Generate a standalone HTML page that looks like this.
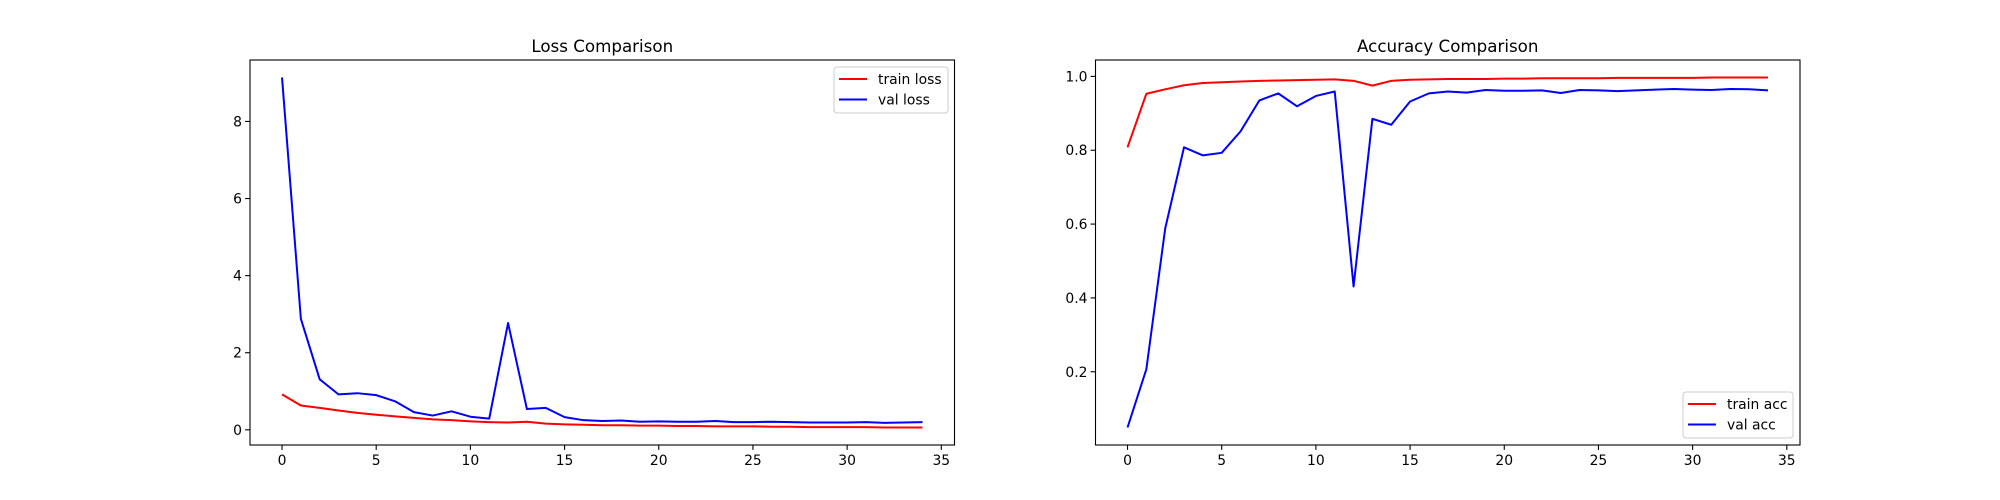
<!DOCTYPE html>
<html><head><meta charset="utf-8"><style>
html,body{margin:0;padding:0;background:#fff;}
svg{display:block;font-family:"DejaVu Sans","Liberation Sans",sans-serif;}
</style></head><body>
<svg id="fig" width="2000" height="500" viewBox="0 0 2000 500"></svg>
<script>
const epochs = Array.from({length:35},(_,i)=>i);
const trainLoss = [0.92,0.63,0.57,0.50,0.44,0.39,0.35,0.31,0.27,0.25,0.22,0.20,0.19,0.21,0.16,0.14,0.13,0.12,0.12,0.11,0.11,0.10,0.10,0.09,0.09,0.09,0.08,0.08,0.07,0.07,0.07,0.07,0.06,0.06,0.06];
const valLoss = [9.14,2.88,1.31,0.92,0.95,0.90,0.74,0.46,0.37,0.48,0.34,0.29,2.77,0.54,0.57,0.33,0.25,0.23,0.24,0.21,0.22,0.21,0.21,0.23,0.20,0.20,0.21,0.20,0.19,0.19,0.19,0.20,0.18,0.19,0.20];
const trainAcc = [0.808,0.953,0.965,0.976,0.982,0.984,0.986,0.988,0.989,0.990,0.991,0.992,0.988,0.975,0.988,0.991,0.992,0.993,0.993,0.993,0.994,0.994,0.995,0.995,0.995,0.995,0.996,0.996,0.996,0.996,0.996,0.997,0.997,0.997,0.997];
const valAcc = [0.049,0.207,0.588,0.808,0.786,0.793,0.851,0.935,0.954,0.919,0.947,0.959,0.431,0.885,0.869,0.932,0.954,0.959,0.956,0.963,0.961,0.961,0.962,0.955,0.963,0.962,0.960,0.962,0.964,0.966,0.964,0.963,0.966,0.965,0.962];
const xTicks = [0,5,10,15,20,25,30,35];
const lossTicks = [0,2,4,6,8];
const accTicks = [0.2,0.4,0.6,0.8,1.0];
const accTickLabels = ["0.2","0.4","0.6","0.8","1.0"];

const NS="http://www.w3.org/2000/svg";
const fig=document.getElementById('fig');
function mk(tag,attrs,parent){const e=document.createElementNS(NS,tag);for(const k in attrs)e.setAttribute(k,attrs[k]);(parent||fig).appendChild(e);return e;}

function panel(opts){
  const L=opts.left,T=60,W=704.5,H=385,B=T+H;
  const g=mk('g',{});
  
  
  const xmin=-1.7,xmax=35.7;
  const all=opts.series.flatMap(s=>s.data);
  const dmin=Math.min(...all),dmax=Math.max(...all),pad=(dmax-dmin)*0.05;
  const ymin=dmin-pad,ymax=dmax+pad;
  const sx=v=>L+(v-xmin)/(xmax-xmin)*W;
  const sy=v=>B-(v-ymin)/(ymax-ymin)*H;
  // series
  opts.series.forEach(s=>{
    const p=mk('polyline',{points:s.data.map((v,i)=>sx(epochs[i]).toFixed(2)+','+sy(v).toFixed(2)).join(' '),fill:'none',stroke:s.color,'stroke-width':2,'stroke-linejoin':'round'},g);
    
    
  });
  const fr=mk('rect',{x:L,y:T,width:W,height:H,fill:'none',stroke:'#000','stroke-width':1.1},g);
  
  
  xTicks.forEach(t=>{
    const x=sx(t);
    mk('line',{x1:x,y1:B,x2:x,y2:B+4.9,stroke:'#000','stroke-width':1.1},g);
    const tx=mk('text',{x:x,y:B+20,'font-size':13.9,'text-anchor':'middle'},g);
    tx.textContent=t;
    
    
  });
  opts.yTicks.forEach((t,i)=>{
    const y=sy(t);
    mk('line',{x1:L,y1:y,x2:L-4.9,y2:y,stroke:'#000','stroke-width':1.1},g);
    const tx=mk('text',{x:L-8,y:y+5,'font-size':13.9,'text-anchor':'end'},g);
    tx.textContent=opts.yLabels[i];
    
    
  });
  const ti=mk('text',{x:L+W/2,y:T-8,'font-size':16.7,'text-anchor':'middle'},g);
  ti.textContent=opts.title;
  
  
  // legend
  const lg=mk('g',{},g);
  
  
  const lx=opts.legend.x,ly=opts.legend.y,lw=opts.legend.w;
  mk('rect',{x:lx,y:ly,width:lw,height:46,rx:3,fill:'#fff','fill-opacity':0.8,stroke:'#ccc','stroke-width':1},lg);
  opts.series.forEach((s,i)=>{
    const yy=ly+12+i*20.5;
    mk('line',{x1:lx+5,y1:yy,x2:lx+33,y2:yy,stroke:s.color,'stroke-width':2},lg);
    const t=mk('text',{x:lx+44,y:yy+5,'font-size':13.9},lg);
    t.textContent=s.label;
    
    
  });
}
panel({name:'loss-chart',left:250,title:'Loss Comparison',yTicks:lossTicks,yLabels:lossTicks.map(String),
  series:[{key:'train-loss',label:'train loss',color:'#ff0000',data:trainLoss},{key:'val-loss',label:'val loss',color:'#0000ff',data:valLoss}],
  legend:{x:834,y:67,w:114}});
panel({name:'accuracy-chart',left:1095.5,title:'Accuracy Comparison',yTicks:accTicks,yLabels:accTickLabels,
  series:[{key:'train-acc',label:'train acc',color:'#ff0000',data:trainAcc},{key:'val-acc',label:'val acc',color:'#0000ff',data:valAcc}],
  legend:{x:1683,y:392,w:110}});
</script>
</body></html>
